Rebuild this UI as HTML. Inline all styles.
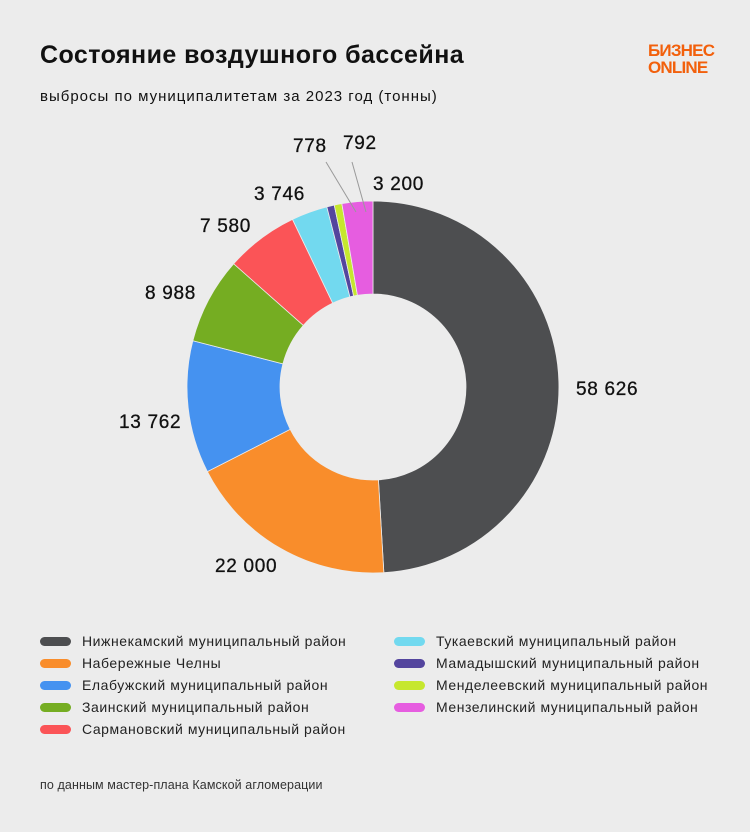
<!DOCTYPE html>
<html><head><meta charset="utf-8"><style>
body{margin:0;background:#ececec;font-family:"Liberation Sans",sans-serif;}
#w{position:relative;width:750px;height:832px;background:#ececec;overflow:hidden}
.t{position:absolute;white-space:nowrap;color:#111}
.lg{position:absolute;font-size:14px;letter-spacing:0.55px;color:#222;white-space:nowrap}
.lg i{position:absolute;left:-42px;top:4px;width:31px;height:9px;border-radius:5px}
.lb{position:absolute;font-size:19px;letter-spacing:0.7px;color:#111;white-space:nowrap;-webkit-text-stroke:0.3px #111}
</style></head><body><div id="w">
<div class="t" style="left:40px;top:41px;font-size:25px;font-weight:bold;letter-spacing:0.45px">Состояние воздушного бассейна</div>
<div class="t" style="left:40px;top:88px;font-size:15px;letter-spacing:1.0px">выбросы по муниципалитетам за 2023 год (тонны)</div>
<div class="t" style="left:648px;top:42px;font-size:17px;font-weight:bold;color:#f2600c;line-height:17px;letter-spacing:-0.8px">БИЗНЕС<br>ONLINE</div>
<svg id="s" width="750" height="832" style="position:absolute;left:0;top:0">
<line x1="326" y1="162" x2="356" y2="212" stroke="#999" stroke-width="1"/>
<line x1="352" y1="162" x2="366" y2="212" stroke="#999" stroke-width="1"/>
</svg>
<div class="lb" style="left:576px;top:379px">58 626</div>
<div class="lb" style="left:215px;top:556px">22 000</div>
<div class="lb" style="left:119px;top:412px">13 762</div>
<div class="lb" style="left:145px;top:283px">8 988</div>
<div class="lb" style="left:200px;top:216px">7 580</div>
<div class="lb" style="left:254px;top:184px">3 746</div>
<div class="lb" style="left:293px;top:136px">778</div>
<div class="lb" style="left:343px;top:133px">792</div>
<div class="lb" style="left:373px;top:174px">3 200</div>
<div class="lg" style="left:82px;top:633px"><i style="background:#4d4e50"></i>Нижнекамский муниципальный район</div>
<div class="lg" style="left:82px;top:655px"><i style="background:#f98d2b"></i>Набережные Челны</div>
<div class="lg" style="left:82px;top:677px"><i style="background:#4592f0"></i>Елабужский муниципальный район</div>
<div class="lg" style="left:82px;top:699px"><i style="background:#75ad22"></i>Заинский муниципальный район</div>
<div class="lg" style="left:82px;top:721px"><i style="background:#fb5457"></i>Сармановский муниципальный район</div>
<div class="lg" style="left:436px;top:633px"><i style="background:#72d9ef"></i>Тукаевский муниципальный район</div>
<div class="lg" style="left:436px;top:655px"><i style="background:#54459e"></i>Мамадышский муниципальный район</div>
<div class="lg" style="left:436px;top:677px"><i style="background:#c6e72e"></i>Менделеевский муниципальный район</div>
<div class="lg" style="left:436px;top:699px"><i style="background:#e65de0"></i>Мензелинский муниципальный район</div>
<div class="t" style="left:40px;top:778px;font-size:12.5px;letter-spacing:0.1px;color:#333">по данным мастер-плана Камской агломерации</div>
</div>
<script>
var d=[[58626,"#4d4e50"],[22000,"#f98d2b"],[13762,"#4592f0"],[8988,"#75ad22"],[7580,"#fb5457"],[3746,"#72d9ef"],[778,"#54459e"],[792,"#c6e72e"],[3200,"#e65de0"]];
var tot=0;d.forEach(function(x){tot+=x[0]});
var cx=373,cy=387,R=186,r=93,a=0,s=document.getElementById("s"),h="";
function p(rad,ang){return (cx+rad*Math.sin(ang)).toFixed(2)+","+(cy-rad*Math.cos(ang)).toFixed(2)}
d.forEach(function(x){var b=a+x[0]/tot*2*Math.PI,l=(b-a)>Math.PI?1:0;
h+='<path d="M'+p(R,a)+' A'+R+','+R+' 0 '+l+' 1 '+p(R,b)+' L'+p(r,b)+' A'+r+','+r+' 0 '+l+' 0 '+p(r,a)+' Z" fill="'+x[1]+'" stroke="#ececec" stroke-width="0.8"/>';a=b;});
s.insertAdjacentHTML("afterbegin",h);
</script>
</body></html>
